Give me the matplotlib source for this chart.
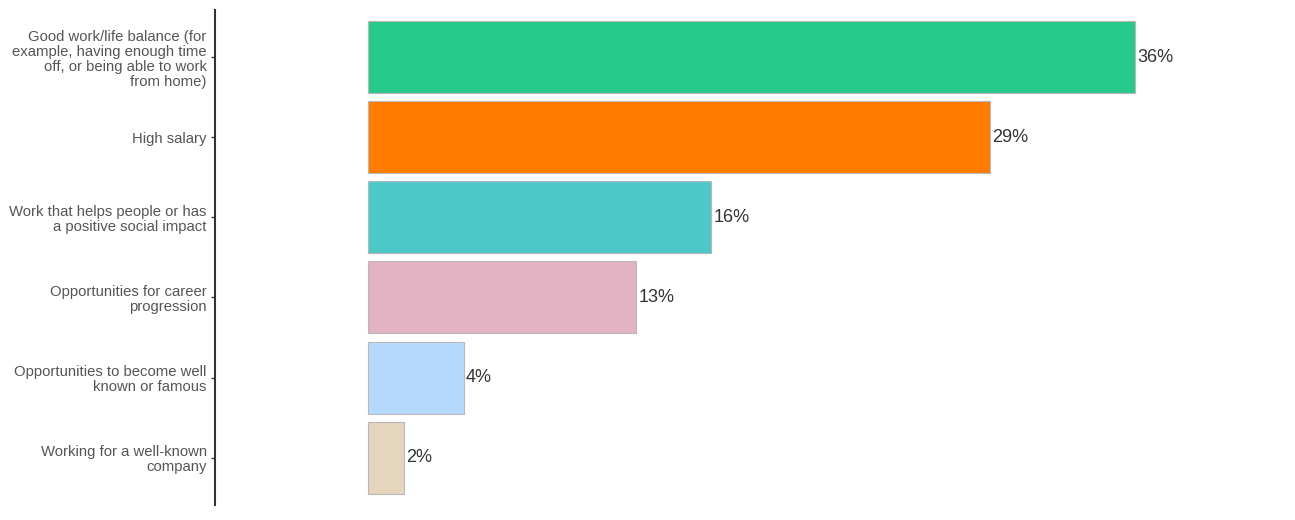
import matplotlib.pyplot as plt

plt.rcParams['font.family'] = ['Liberation Sans', 'DejaVu Sans']

# data
categories = ['Good work/life balance (for\nexample, having enough time\noff, or being able to work\nfrom home)',
              'High salary',
              'Work that helps people or has\na positive social impact',
              'Opportunities for career\nprogression',
              'Opportunities to become well\nknown or famous',
              'Working for a well-known\ncompany']
values = [36.0, 29.2, 16.1, 12.6, 4.5, 1.7]
labels = ['36%', '29%', '16%', '13%', '4%', '2%']
colors = ['#26C98A', '#FF7C00', '#4DC8C8', '#E3B3C3', '#B5D9FD', '#E5D5BD']

fig = plt.figure(figsize=(12.95, 5.2), dpi=100)
ax = fig.add_axes([0.166, 0.029, 0.834, 0.952])

y = list(range(len(categories)))
ax.barh(y, values, height=0.9, color=colors, edgecolor='#b8b8b8', linewidth=0.8)
for i in y:
    ax.text(values[i] + 0.1, i, labels[i], va='center', ha='left', fontsize=13, color='#333333')

ax.set_yticks(y)
ax.set_yticklabels(categories, fontsize=10.7, color='#555555', linespacing=1.1)
ax.set_ylim(5.59, -0.59)
ax.set_xlim(-7.18, 43.5)
ax.set_xticks([])
for s in ['top', 'right', 'bottom']:
    ax.spines[s].set_visible(False)
ax.spines['left'].set_color('#333333')
ax.spines['left'].set_linewidth(1.5)
ax.tick_params(axis='y', length=3, width=1, color='#333333', pad=3)

fig.savefig('out.png', dpi=100)
